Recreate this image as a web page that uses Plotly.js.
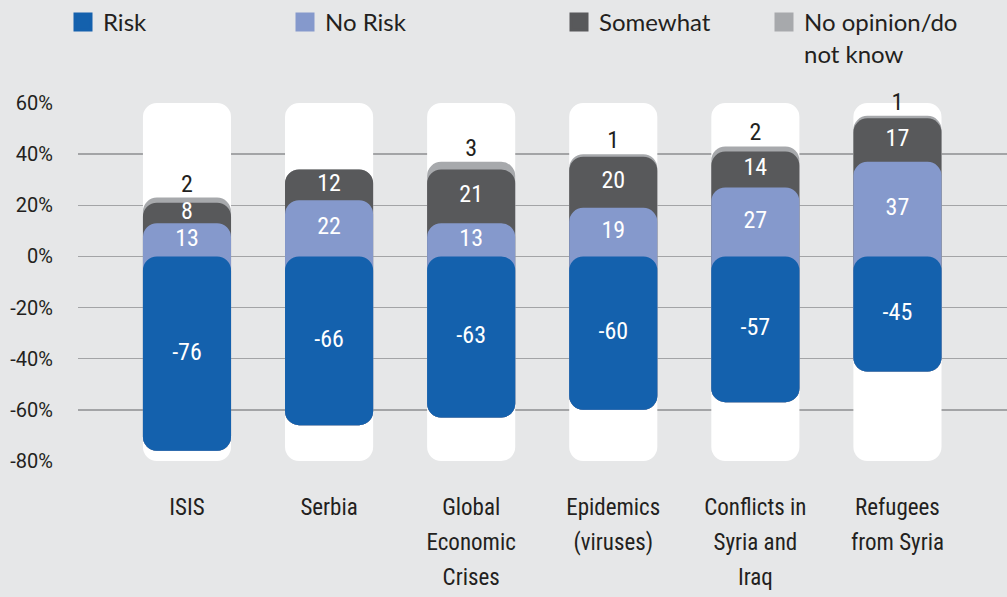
<!DOCTYPE html>
<html><head><meta charset="utf-8">
<script src="https://cdn.plot.ly/plotly-3.0.1.min.js"></script>
<style>
html,body{margin:0;padding:0;background:#e6e7e8;}
#chart .xtick text, #chart .textpoint text{font-stretch:condensed;}
</style>
</head><body><div id="chart" style="width:1007px;height:597px;"></div>
<script>
const categories = ["ISIS", "Serbia", "Global<br>Economic<br>Crises", "Epidemics<br>(viruses)", "Conflicts in<br>Syria and<br>Iraq", "Refugees<br>from Syria"];
const risk = [-76, -66, -63, -60, -57, -45];
const noRisk = [13, 22, 13, 19, 27, 37];
const somewhat = [8, 12, 21, 20, 14, 17];
const noOpinion = [2, 0, 3, 1, 2, 1];
const scaleMax = 60, scaleMin = -80;
const yTicks = [60, 40, 20, 0, -20, -40, -60, -80];
const yTickText = ["60%", "40%", "20%", "0%", "-20%", "-40%", "-60%", "-80%"];

const C = {risk:'#1461ad', noRisk:'#8599cc', somewhat:'#58595b', noOpinion:'#a7a9ac', bg:'#e6e7e8', grid:'#a3a4a6', text:'#231f20'};
const fontA = 'Roboto, sans-serif';
const W = 0.62, R = 14;

const top2 = noRisk.map((v,i)=>v+somewhat[i]);
const top3 = top2.map((v,i)=>v+noOpinion[i]);

function bar(y, base, color) {
  return {type:'bar', x:categories, y:y, base:base, width:W,
    marker:{color:color, cornerradius:R, line:{width:0}}, hoverinfo:'skip', showlegend:false};
}
function labels(y, vals, color, pos) {
  return {type:'scatter', mode:'text', x:categories, y:y, text:vals.map(v=>v?String(v):''), textposition:pos||'middle center',
    textfont:{family:fontA, size:24, color:color}, hoverinfo:'skip', showlegend:false, cliponaxis:false};
}
function legendItem(name, color, legend) {
  return {type:'scatter', mode:'markers', x:[null], y:[null], name:name, legend:legend,
    marker:{symbol:'square', size:16, color:color, line:{color:color, width:3}}, hoverinfo:'skip'};
}
const traces = [
  bar(categories.map(()=>scaleMax - scaleMin), categories.map(()=>scaleMin), '#ffffff'),
  bar(top3.map((v,i)=>v-risk[i]), risk, C.noOpinion),
  bar(top2.map((v,i)=>v-risk[i]), risk, C.somewhat),
  bar(noRisk.map((v,i)=>v-risk[i]), risk, C.noRisk),
  bar(risk, categories.map(()=>0), C.risk),
  labels(risk.map(v=>v/2), risk, '#ffffff'),
  labels(noRisk.map(v=>v/2), noRisk, '#ffffff'),
  labels(somewhat.map((v,i)=>noRisk[i]+v/2), somewhat, '#ffffff'),
  labels(top3, noOpinion, C.text, 'top center'),
  legendItem('Risk', C.risk, 'legend'),
  legendItem('No Risk', C.noRisk, 'legend'),
  legendItem('Somewhat', C.somewhat, 'legend2'),
  legendItem('No opinion/do<br>not know', C.noOpinion, 'legend2')
];

const legendFont = {family:'Lato, Liberation Sans, sans-serif', size:24, color:C.text};
const layout = {
  width:1007, height:597,
  margin:{l:78, r:0, t:103, b:136},
  paper_bgcolor:C.bg, plot_bgcolor:C.bg,
  barmode:'overlay',
  font:{family:fontA, color:C.text},
  xaxis:{type:'category', range:[-0.767, 5.771], showgrid:false, zeroline:false, showline:false,
    tickvals:categories, ticktext:categories.map(c=>c.split('<br>').map(s=>'<span style="font-size:23px">'+s+'</span>').join('<br>')),
    ticks:'', tickfont:{family:fontA, size:27, color:C.text}, ticklabelstandoff:26, fixedrange:true},
  yaxis:{range:[scaleMin, scaleMax], tickvals:yTicks, ticktext:yTickText, showgrid:true, gridcolor:C.grid, gridwidth:1.3,
    zeroline:true, zerolinecolor:C.grid, zerolinewidth:1.3, showline:false, ticks:'',
    tickfont:{family:fontA, size:20, color:C.text}, ticklabelstandoff:24, fixedrange:true},
  legend:{orientation:'h', xref:'container', yref:'container', x:63/1007, y:1, xanchor:'left', yanchor:'top',
    font:legendFont, entrywidth:177, valign:'top', bgcolor:'rgba(0,0,0,0)', traceorder:'normal', itemsizing:'trace'},
  legend2:{orientation:'h', xref:'container', yref:'container', x:559/1007, y:1, xanchor:'left', yanchor:'top',
    font:legendFont, entrywidth:160, valign:'top', bgcolor:'rgba(0,0,0,0)', traceorder:'normal', itemsizing:'trace'},
  showlegend:true
};
Plotly.newPlot('chart', traces, layout, {displayModeBar:false, staticPlot:true});
</script></body></html>
